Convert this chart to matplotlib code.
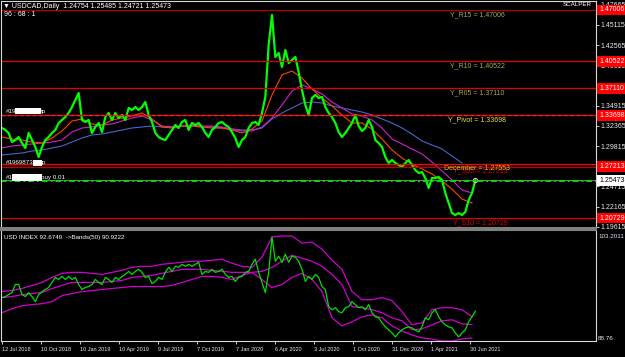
import numpy as np
import matplotlib
matplotlib.use('Agg')
import matplotlib.pyplot as plt

plt.rcParams['font.family'] = ['Liberation Sans Narrow', 'Liberation Sans', 'DejaVu Sans']

usdcad = [1.3210, 1.3185, 1.3147, 1.3033, 1.3058, 1.3096, 1.3020, 1.2957, 1.3147, 1.3058,
          1.2970, 1.2844, 1.2970, 1.3058, 1.3096, 1.3147, 1.3185, 1.3273, 1.3311, 1.3349,
          1.3400, 1.3475, 1.3564, 1.3652, 1.3311, 1.3286, 1.3311, 1.3147, 1.3223, 1.3273,
          1.3159, 1.3349, 1.3400, 1.3311, 1.3400, 1.3336, 1.3374, 1.3311, 1.3463, 1.3437,
          1.3475, 1.3437, 1.3475, 1.3538, 1.3374, 1.3286, 1.3147, 1.3096, 1.3071, 1.3058,
          1.3122, 1.3185, 1.3248, 1.3210, 1.3286, 1.3311, 1.3185, 1.3273, 1.3248, 1.3273,
          1.3223, 1.3147, 1.3096, 1.3185, 1.3223, 1.3273, 1.3286, 1.3248, 1.3223, 1.3159,
          1.3084, 1.2970, 1.3058, 1.3096, 1.3210, 1.3273, 1.3286, 1.3248, 1.3400, 1.3602,
          1.4259, 1.4637, 1.4107, 1.4158, 1.3981, 1.4195, 1.4031, 1.4069, 1.4107, 1.3917,
          1.3690, 1.3501, 1.3374, 1.3589, 1.3627, 1.3589, 1.3602, 1.3475, 1.3400, 1.3349,
          1.3273, 1.3159, 1.3096, 1.3147, 1.3210, 1.3273, 1.3374, 1.3235, 1.3172, 1.3210,
          1.3311, 1.3223, 1.3058, 1.3020, 1.2970, 1.2844, 1.2768, 1.2806, 1.2768, 1.2743,
          1.2717, 1.2768, 1.2806, 1.2743, 1.2679, 1.2642, 1.2654, 1.2578, 1.2452, 1.2578,
          1.2578, 1.2591, 1.2553, 1.2389, 1.2263, 1.2136, 1.2111, 1.2136, 1.2111, 1.2149,
          1.2300, 1.2389, 1.2547]

# moving averages, one value every 3 samples
ma_fast = [1.3096, 1.3071, 1.3058, 1.3033, 1.3020, 1.3084, 1.3172, 1.3298, 1.3324, 1.3261,
           1.3248, 1.3311, 1.3336, 1.3362, 1.3400, 1.3324, 1.3223, 1.3210, 1.3235, 1.3235,
           1.3223, 1.3210, 1.3210, 1.3185, 1.3147, 1.3197, 1.3298, 1.3627, 1.3880, 1.3930,
           1.3842, 1.3703, 1.3589, 1.3488, 1.3374, 1.3273, 1.3273, 1.3197, 1.3071, 1.2932,
           1.2831, 1.2755, 1.2692, 1.2629, 1.2540, 1.2439, 1.2313, 1.2263]
ma_mid = [1.2957, 1.2983, 1.2995, 1.3008, 1.3020, 1.3033, 1.3058, 1.3159, 1.3210, 1.3223,
          1.3248, 1.3261, 1.3298, 1.3336, 1.3362, 1.3311, 1.3235, 1.3223, 1.3235, 1.3248,
          1.3235, 1.3235, 1.3223, 1.3197, 1.3172, 1.3172, 1.3223, 1.3336, 1.3501, 1.3677,
          1.3753, 1.3703, 1.3640, 1.3538, 1.3463, 1.3387, 1.3362, 1.3311, 1.3210, 1.3071,
          1.3008, 1.2945, 1.2882, 1.2780, 1.2667, 1.2553, 1.2427, 1.2389]
ma_slow = [1.2869, 1.2882, 1.2894, 1.2919, 1.2932, 1.2957, 1.2983, 1.3033, 1.3084, 1.3122,
           1.3134, 1.3159, 1.3185, 1.3210, 1.3223, 1.3235, 1.3223, 1.3223, 1.3235, 1.3235,
           1.3223, 1.3223, 1.3210, 1.3197, 1.3185, 1.3185, 1.3210, 1.3324, 1.3400, 1.3463,
           1.3526, 1.3538, 1.3526, 1.3488, 1.3463, 1.3437, 1.3412, 1.3374, 1.3324, 1.3273,
           1.3210, 1.3134, 1.3046, 1.2995, 1.2945, 1.2856, 1.2768]

# USD index and its Bollinger bands (50)
dxy = [94.46, 94.59, 94.85, 95.12, 96.18, 96.18, 94.85, 94.59, 95.12, 94.59,
       93.93, 94.85, 95.25, 95.52, 95.78, 96.44, 97.11, 96.84, 97.24, 96.84,
       97.24, 96.84, 97.11, 96.18, 95.52, 95.78, 95.91, 96.18, 96.84, 96.44,
       96.18, 97.11, 96.84, 96.44, 97.11, 96.84, 97.24, 97.50, 97.90, 97.50,
       97.90, 98.17, 97.77, 97.11, 97.24, 96.31, 96.58, 97.11, 96.84, 97.77,
       98.43, 97.90, 98.56, 98.43, 98.83, 98.56, 98.83, 98.56, 98.83, 99.09,
       97.50, 97.90, 97.77, 98.17, 97.77, 97.90, 98.17, 97.50, 97.11, 97.24,
       96.58, 97.11, 97.24, 97.77, 97.90, 98.83, 99.49, 97.77, 96.44, 95.12,
       97.77, 102.41, 99.23, 99.89, 99.09, 100.15, 99.09, 99.89, 99.76, 99.23,
       98.17, 96.58, 97.24, 96.84, 97.50, 97.11, 95.91, 95.52, 93.26, 92.87,
       93.13, 92.60, 92.47, 93.13, 93.26, 93.93, 93.53, 93.13, 93.26, 92.87,
       93.53, 92.47, 91.94, 91.81, 91.14, 90.61, 90.22, 89.82, 89.29, 89.82,
       90.22, 90.48, 90.61, 90.48, 90.22, 89.95, 90.61, 91.81, 91.54, 92.47,
       92.87, 91.94, 91.28, 90.88, 90.61, 90.48, 89.82, 89.29, 89.82, 90.22,
       91.28, 91.94, 92.67]
band_up = [95.25, 95.38, 95.65, 96.05, 96.44, 97.11, 97.64, 97.77, 97.77, 97.64,
           97.50, 97.77, 98.03, 98.43, 98.56, 98.56, 98.83, 98.96, 99.09, 99.23,
           99.23, 99.36, 99.49, 98.96, 98.56, 98.43, 99.76, 102.41, 102.54, 102.54,
           101.61, 101.74, 100.82, 99.36, 98.17, 95.25, 94.19, 94.19, 94.46, 94.06,
           92.60, 90.88, 91.14, 92.87, 93.13, 93.13, 92.87, 91.94]
band_mid = [94.46, 94.59, 94.85, 94.99, 95.12, 95.65, 96.05, 96.44, 96.44, 96.44,
            96.44, 96.58, 96.71, 97.11, 97.24, 97.37, 97.64, 97.90, 98.17, 98.17,
            98.17, 98.03, 97.90, 97.77, 97.77, 97.77, 97.90, 98.43, 99.23, 100.02,
            99.62, 99.23, 98.56, 97.50, 96.18, 93.26, 93.13, 92.87, 92.47, 91.81,
            91.41, 90.22, 90.35, 90.88, 91.41, 91.54, 91.01, 90.92]
band_low = [92.47, 93.00, 93.40, 93.53, 93.66, 93.93, 94.72, 94.99, 95.25, 95.38,
            95.52, 95.65, 95.78, 95.91, 95.91, 95.91, 95.91, 96.05, 96.44, 96.84,
            97.24, 97.24, 97.11, 96.84, 97.37, 97.77, 96.84, 95.78, 96.18, 97.11,
            97.64, 96.84, 95.25, 91.81, 90.75, 91.28, 91.94, 92.20, 91.81, 90.75,
            90.08, 89.55, 89.16, 89.02, 88.76, 88.76, 89.02, 89.16]

# horizontal levels
level_names = ['Y_R15', 'Y_R10', 'Y_R05', 'Y_Pivot', 'Y_S05', 'December', 'Y_S10']
level_values = [1.47006, 1.40522, 1.37110, 1.33698, 1.27213, 1.27553, 1.20729]
buy_level = 1.2535
bid = 1.25473

price_ticks = [1.47665, 1.45115, 1.42565, 1.40015, 1.37465, 1.34915, 1.32365,
               1.29815, 1.27265, 1.24715, 1.22165, 1.19615]
hidden_ticks = [1.37465, 1.27265]   # covered by level labels on the scale
date_labels = ['12 Jul 2018', '10 Oct 2018', '10 Jan 2019', '10 Apr 2019', '9 Jul 2019',
               '7 Oct 2019', '7 Jan 2020', '6 Apr 2020', '3 Jul 2020', '1 Oct 2020',
               '31 Dec 2020', '1 Apr 2021', '30 Jun 2021']

W, H = 625, 357
fig = plt.figure(figsize=(W / 100, H / 100), dpi=100, facecolor='black')


def box(x0, y0, x1, y1):
    return [x0 / W, 1 - y1 / H, (x1 - x0) / W, (y1 - y0) / H]


def ftext(x, y, s, **kw):
    fig.text(x / W, 1 - y / H, s, va='center', ha='left', **kw)


ax = fig.add_axes(box(1, 1, 596, 228), facecolor='black')
sub = fig.add_axes(box(1, 230, 596, 341), facecolor='black')

x = np.arange(len(usdcad))
ax.plot(np.arange(len(ma_slow)) * 3, ma_slow, color='#4466cc', lw=0.8)
ax.plot(np.arange(len(ma_mid)) * 3, ma_mid, color='#d020d0', lw=0.8)
ax.plot(np.arange(len(ma_fast)) * 3, ma_fast, color='#ff4400', lw=0.8)
ax.plot(x, usdcad, color='#00ff00', lw=1.6)
ax.plot(x[-1], bid, marker='o', ms=3, mfc='none', mec='#c8c8c8', mew=0.8)

# levels
line_colors = ['#b00000', '#e00000', '#e00000', '#e00000', '#c00000', '#ff0000', '#e00000']
text_colors = ['#a8a850', '#a8a850', '#a8a850', '#f0e040', '#e00000', '#dcc830', '#e00000']
text_dx = [449, 449, 449, 447, 452, 443, 452]
for name, v, lc, tc, dx in zip(level_names, level_values, line_colors, text_colors, text_dx):
    ax.axhline(v, color=lc, lw=0.9)
    ax.annotate(f'{name} = {v:.5f}', xy=(0, v), xycoords=('axes fraction', 'data'),
                xytext=(dx, -4.5), textcoords='offset pixels', va='center', ha='left',
                fontsize=5, color=tc)
ax.axhline(level_values[3], color='#ff2020', lw=0.9, ls=(0, (3, 2)))

ax.axhline(bid, color='#909090', lw=0.6)
ax.axhline(buy_level, color='#00e000', lw=1.4, ls=(0, (3, 1.5, 1, 1.5)))

# order tags with hidden ticket numbers
tags = [(level_values[3], '#19', '0000000', 15, 'tp'),
        (level_values[4], '#1969873', '00', 33, 'tp'),
        (buy_level, '#1', '00000000', 12, 'buy 0.01')]
for v, head, hidden, hx, tail in tags:
    kw = dict(xycoords=('axes fraction', 'data'), textcoords='offset pixels',
              va='bottom', ha='left', fontsize=4.5)
    ax.annotate(head, xy=(0, v), xytext=(5, 1.5), color='white', **kw)
    ax.annotate(hidden, xy=(0, v), xytext=(hx, 1.5), color='white',
                bbox=dict(boxstyle='square,pad=0.1', fc='white', ec='none'), **kw)
    ax.annotate(tail, xy=(0, v), xytext=(40, 1.5), color='white', **kw)

# right price scale
ax.set_xlim(-0.3, 178.2)
ax.set_ylim(1.1947, 1.4814)
ax.set_xticks([])
ax.yaxis.tick_right()
ax.set_yticks(price_ticks)
ax.set_yticklabels(['' if t in hidden_ticks else f'{t:.5f}' for t in price_ticks])
ax.tick_params(axis='y', colors='#e8e8e8', labelsize=5, length=2, width=0.6, pad=1.5)
for v in [level_values[i] for i in (0, 1, 2, 3, 4, 6)]:
    ax.annotate(f'{v:.5f}', xy=(1, v), xycoords=('axes fraction', 'data'),
                xytext=(3, 0), textcoords='offset pixels', va='center', ha='left',
                fontsize=5, color='white', annotation_clip=False,
                bbox=dict(boxstyle='square,pad=0.25', fc='#ff0000', ec='none'))
ax.annotate(f'{bid:.5f}', xy=(1, bid), xycoords=('axes fraction', 'data'),
            xytext=(3, 0), textcoords='offset pixels', va='center', ha='left',
            fontsize=5, color='black', annotation_clip=False,
            bbox=dict(boxstyle='square,pad=0.25', fc='white', ec='none'))

for s in ax.spines.values():
    s.set_color('#d8d8d8')
    s.set_linewidth(0.8)
ax.spines['bottom'].set_color('#808080')
ax.spines['bottom'].set_linewidth(1.5)

# USD index window
bx = np.arange(len(band_up)) * 3
sub.plot(bx, band_up, color='#d000d0', lw=0.9)
sub.plot(bx, band_mid, color='#d000d0', lw=0.9)
sub.plot(bx, band_low, color='#d000d0', lw=0.9)
sub.plot(np.arange(len(dxy)), dxy, color='#00e000', lw=0.9)
sub.set_xlim(-0.3, 178.2)
sub.set_ylim(88.76, 103.33)
sub.set_yticks([])
sub.set_xticks(np.arange(len(date_labels)) * 11.71)
sub.set_xticklabels(date_labels, ha='left')
sub.tick_params(axis='x', colors='#e8e8e8', labelsize=4, length=2, width=0.6, pad=2.5)
for s in sub.spines.values():
    s.set_color('#d8d8d8')
    s.set_linewidth(0.8)
sub.spines['top'].set_color('#808080')
sub.spines['top'].set_linewidth(1.5)

ftext(3, 6, '\u25bc USDCAD,Daily  1.24754 1.25485 1.24721 1.25473', fontsize=5, color='white')
ftext(4, 14, '96 : 68 : 1', fontsize=5, color='white')
ftext(563, 5, 'SCALPER', fontsize=4.5, color='white')
ftext(4, 237, 'USD INDEX 92.6749  ->Bands(50) 90.9222', fontsize=4.5, color='white')
ftext(598, 237, '103.2011', fontsize=4.5, color='#dde4ff')
ftext(598, 338, '88.76', fontsize=4.5, color='#e8e8e8')

fig.savefig('out.png', dpi=100, facecolor='black')
